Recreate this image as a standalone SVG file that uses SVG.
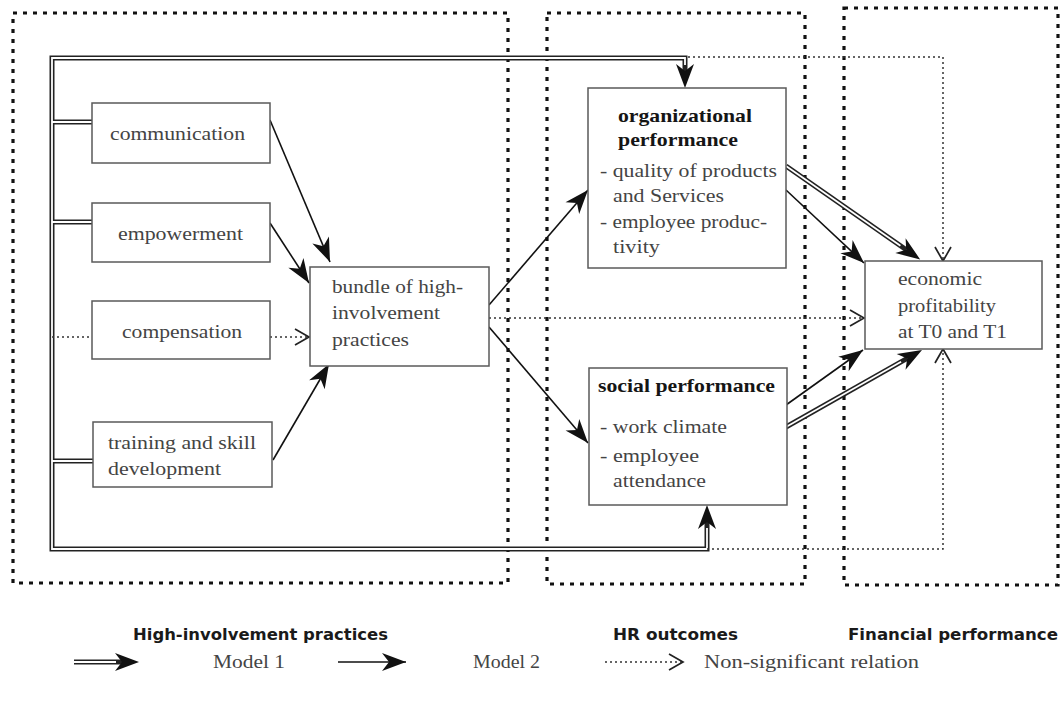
<svg xmlns="http://www.w3.org/2000/svg" width="1061" height="703" viewBox="0 0 1061 703">
<defs>
<style>
.box{fill:#fff;stroke:#5a5a5a;stroke-width:1.5}
.t{font-family:"Liberation Serif","Times New Roman",serif;font-size:19px;fill:#444}
.tb{font-family:"Liberation Serif","Times New Roman",serif;font-size:19px;font-weight:bold;fill:#151515}
.lab{font-family:"DejaVu Sans Condensed","Liberation Sans",sans-serif;font-size:16px;font-weight:bold;fill:#1a1a1a}
.leg{font-family:"Liberation Serif","Times New Roman",serif;font-size:19px;fill:#444}
.region{fill:none;stroke:#111;stroke-width:3.2;stroke-dasharray:4 6}
.m2{stroke:#111;stroke-width:1.6;fill:none;marker-end:url(#ah)}
.m1b{stroke:#222;stroke-width:5;fill:none}
.m1w{stroke:#fff;stroke-width:1.8;fill:none}
.ns{stroke:#333;stroke-width:1.5;stroke-dasharray:2 3;fill:none}
.nsa{marker-end:url(#ch)}
</style>
<marker id="ah" markerUnits="userSpaceOnUse" markerWidth="26" markerHeight="20" refX="24" refY="9" orient="auto" overflow="visible"><path d="M0,0 L24,9 L0,18 L7,9 Z" fill="#111"/></marker>
<marker id="ah1" markerUnits="userSpaceOnUse" markerWidth="26" markerHeight="20" refX="7" refY="9" orient="auto-start-reverse" overflow="visible"><path d="M0,0 L24,9 L0,18 L7,9 Z" fill="#111"/></marker>
<marker id="ch" markerUnits="userSpaceOnUse" markerWidth="16" markerHeight="18" refX="14" refY="8" orient="auto" overflow="visible"><path d="M0,0 L14,8 L0,16" fill="none" stroke="#222" stroke-width="1.7"/></marker>
</defs>
<rect width="1061" height="703" fill="#fff"/>

<g id="regions">
<rect class="region" x="13" y="13" width="495" height="570"/>
<rect class="region" x="547" y="13" width="258" height="571"/>
<rect class="region" x="844" y="8" width="214" height="577"/>
</g>

<g id="connectors">
<!-- Model 1 (double lines) -->
<path class="m1b" d="M685,71 L685,58 L52,58 L52,549 L707,549 L707,522" marker-start="url(#ah1)" marker-end="url(#ah1)"/>
<path class="m1b" d="M52,122 L92,122 M52,222 L92,222 M52,461 L93,461"/>
<path class="m1b" d="M786,166 L906.2,249.7" marker-end="url(#ah1)"/>
<path class="m1b" d="M786,427 L907.2,358.4" marker-end="url(#ah1)"/>
<path class="m1w" d="M685,65 L685,58 L52,58 L52,549 L707,549 L707,528"/>
<path class="m1w" d="M52,122 L92,122 M52,222 L92,222 M52,461 L93,461"/>
<path class="m1w" d="M786,166 L900.4,245.7"/>
<path class="m1w" d="M786,427 L901.1,361.8"/>
<!-- Model 2 (single) -->
<path class="m2" d="M270,120 L330,262"/>
<path class="m2" d="M270,223 L309,283"/>
<path class="m2" d="M273,460 L329,364"/>
<path class="m2" d="M489,305 L588,190"/>
<path class="m2" d="M489,327 L588,443"/>
<path class="m2" d="M786,190 L864,263"/>
<path class="m2" d="M786,405 L863,350"/>
<!-- Non-significant (dotted) -->
<path class="ns" d="M52,337 L92,337"/>
<path class="ns nsa" d="M270,337 L309,337"/>
<path class="ns nsa" d="M489,318 L864,318"/>
<path class="ns nsa" d="M688,57 L943,57 L943,261"/>
<path class="ns nsa" d="M707,549 L943,549 L943,349"/>
</g>

<g id="communication">
<rect class="box" x="92" y="103" width="178" height="60"/>
<text class="t" x="110" y="140" textLength="135" lengthAdjust="spacingAndGlyphs">communication</text>
</g>
<g id="empowerment">
<rect class="box" x="92" y="203" width="178" height="59"/>
<text class="t" x="118" y="240" textLength="125" lengthAdjust="spacingAndGlyphs">empowerment</text>
</g>
<g id="compensation">
<rect class="box" x="92" y="301" width="178" height="58"/>
<text class="t" x="122" y="338" textLength="120" lengthAdjust="spacingAndGlyphs">compensation</text>
</g>
<g id="training">
<rect class="box" x="93" y="422" width="179" height="65"/>
<text class="t" x="108" y="449" textLength="148" lengthAdjust="spacingAndGlyphs">training and skill</text>
<text class="t" x="108" y="475" textLength="113" lengthAdjust="spacingAndGlyphs">development</text>
</g>
<g id="bundle">
<rect class="box" x="310" y="267" width="179" height="99"/>
<text class="t" x="332" y="293" textLength="131" lengthAdjust="spacingAndGlyphs">bundle of high-</text>
<text class="t" x="332" y="319" textLength="108" lengthAdjust="spacingAndGlyphs">involvement</text>
<text class="t" x="332" y="346" textLength="77" lengthAdjust="spacingAndGlyphs">practices</text>
</g>
<g id="organizational">
<rect class="box" x="588" y="88" width="198" height="180"/>
<text class="tb" x="618" y="122" textLength="134" lengthAdjust="spacingAndGlyphs">organizational</text>
<text class="tb" x="618" y="146" textLength="120" lengthAdjust="spacingAndGlyphs">performance</text>
<text class="t" x="600" y="177" textLength="177" lengthAdjust="spacingAndGlyphs">- quality of products</text>
<text class="t" x="613" y="202" textLength="111" lengthAdjust="spacingAndGlyphs">and Services</text>
<text class="t" x="600" y="228" textLength="167" lengthAdjust="spacingAndGlyphs">- employee produc-</text>
<text class="t" x="613" y="253" textLength="47" lengthAdjust="spacingAndGlyphs">tivity</text>
</g>
<g id="social">
<rect class="box" x="589" y="368" width="198" height="137"/>
<text class="tb" x="598" y="392" textLength="177" lengthAdjust="spacingAndGlyphs">social performance</text>
<text class="t" x="600" y="433" textLength="127" lengthAdjust="spacingAndGlyphs">- work climate</text>
<text class="t" x="600" y="462" textLength="99" lengthAdjust="spacingAndGlyphs">- employee</text>
<text class="t" x="613" y="487" textLength="93" lengthAdjust="spacingAndGlyphs">attendance</text>
</g>
<g id="economic">
<rect class="box" x="865" y="261" width="177" height="88"/>
<text class="t" x="898" y="285" textLength="84" lengthAdjust="spacingAndGlyphs">economic</text>
<text class="t" x="898" y="312" textLength="98" lengthAdjust="spacingAndGlyphs">profitability</text>
<text class="t" x="898" y="338" textLength="109" lengthAdjust="spacingAndGlyphs">at T0 and T1</text>
</g>

<g id="labels">
<text class="lab" x="133" y="640" textLength="255" lengthAdjust="spacingAndGlyphs">High-involvement practices</text>
<text class="lab" x="613" y="640" textLength="125" lengthAdjust="spacingAndGlyphs">HR outcomes</text>
<text class="lab" x="848" y="640" textLength="210" lengthAdjust="spacingAndGlyphs">Financial performance</text>
</g>

<g id="legend">
<path class="m1b" d="M74,662 L122,662" marker-end="url(#ah1)"/>
<path class="m1w" d="M74,662 L116,662"/>
<text class="leg" x="213" y="668" textLength="72" lengthAdjust="spacingAndGlyphs">Model 1</text>
<path class="m2" d="M338,662 L406,662"/>
<text class="leg" x="473" y="668" textLength="67" lengthAdjust="spacingAndGlyphs">Model 2</text>
<path class="ns nsa" d="M605,662 L683,662"/>
<text class="leg" x="704" y="668" textLength="215" lengthAdjust="spacingAndGlyphs">Non-significant relation</text>
</g>
</svg>
